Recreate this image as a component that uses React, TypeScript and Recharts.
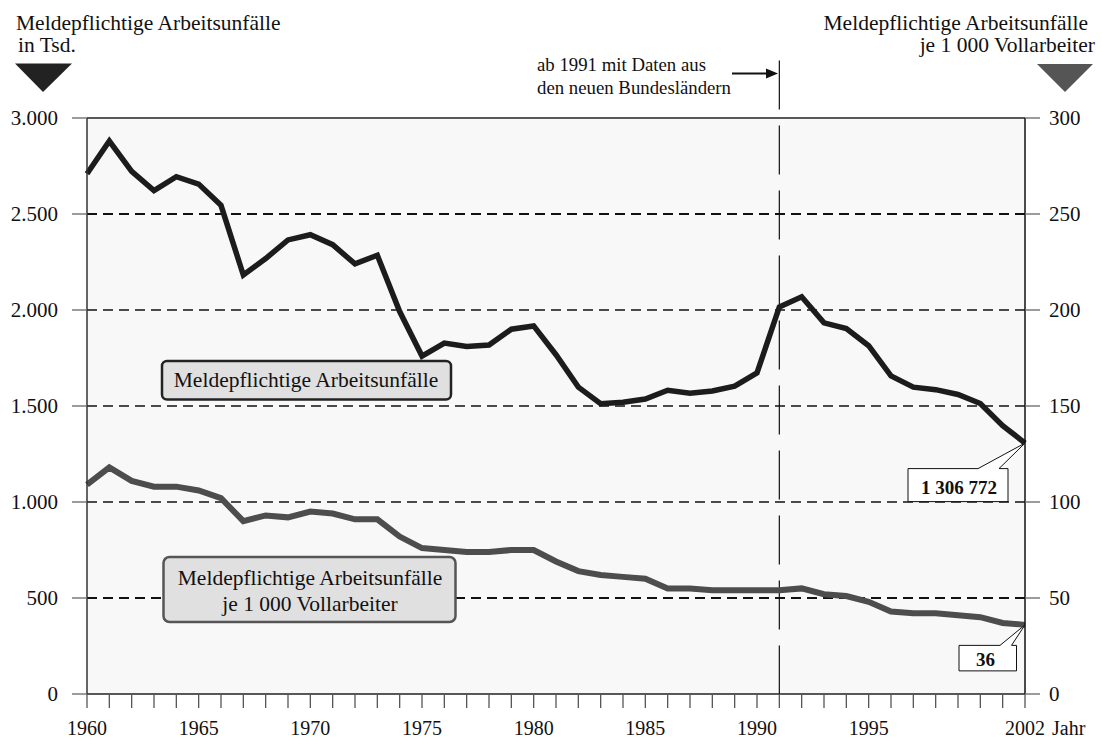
import React from "react";
import {
  CartesianGrid,
  Line,
  LineChart,
  ReferenceDot,
  ReferenceLine,
  XAxis,
  YAxis,
} from "recharts";

const years = [
  1960, 1961, 1962, 1963, 1964, 1965, 1966, 1967, 1968, 1969, 1970, 1971, 1972, 1973, 1974,
  1975, 1976, 1977, 1978, 1979, 1980, 1981, 1982, 1983, 1984, 1985, 1986, 1987, 1988, 1989,
  1990, 1991, 1992, 1993, 1994, 1995, 1996, 1997, 1998, 1999, 2000, 2001, 2002,
];

// Meldepflichtige Arbeitsunfälle in Tsd. (linke Achse)
const accidentsTsd = [
  2710, 2880, 2722, 2622, 2694, 2656, 2545, 2182, 2268, 2365, 2392, 2340, 2240, 2285, 1992,
  1760, 1828, 1810, 1818, 1900, 1917, 1767, 1598, 1512, 1520, 1536, 1582, 1567, 1578, 1603,
  1672, 2016, 2069, 1933, 1903, 1814, 1657, 1598, 1585, 1560, 1513, 1398, 1306.772,
];

// je 1 000 Vollarbeiter (rechte Achse)
const accidentsPer1000 = [
  109, 118, 111, 108, 108, 106, 102, 90, 93, 92, 95, 94, 91, 91, 82,
  76, 75, 74, 74, 75, 75, 69, 64, 62, 61, 60, 55, 55, 54, 54,
  54, 54, 55, 52, 51, 48, 43, 42, 42, 41, 40, 37, 36,
];

const labeledYears = [1960, 1965, 1970, 1975, 1980, 1985, 1990, 1995, 2002];
const leftTicks = [0, 500, 1000, 1500, 2000, 2500, 3000];
const rightTicks = [0, 50, 100, 150, 200, 250, 300];
const boldGridValues = [500, 2500];

const reunificationYear = 1991;
const lastAccidentsLabel = "1 306 772";
const lastRateLabel = "36";

const data = years.map((year, i) => ({
  year,
  accidents: accidentsTsd[i],
  rate: accidentsPer1000[i],
}));

const FONT = "'Liberation Serif', 'Times New Roman', serif";

function formatThousands(value: number) {
  return String(value).replace(/\B(?=(\d{3})+(?!\d))/g, ".");
}

function YearTick({ x, y, payload }: any) {
  if (!labeledYears.includes(payload.value)) return <g />;
  return (
    <text x={x} y={y + 25} textAnchor="middle" fontSize={20} fill="#111" fontFamily={FONT}>
      {payload.value}
    </text>
  );
}

function GridLine(props: any) {
  const { x1, x2, y1, y, height } = props;
  const value = ((y + height - y1) / height) * 3000;
  if (Math.abs(y1 - y) < 1) {
    return <line x1={x1} x2={x2} y1={y1} y2={y1} stroke="#222" strokeWidth={1.5} />;
  }
  if (Math.abs(y1 - (y + height)) < 1) return <g />;
  const bold = boldGridValues.some((v) => Math.abs(v - value) < 10);
  return (
    <line
      x1={x1}
      x2={x2}
      y1={y1}
      y2={y1}
      stroke="#111"
      strokeWidth={bold ? 2 : 1.3}
      strokeDasharray="10 6"
    />
  );
}

function AccidentsCallout({ cx, cy }: any) {
  const top = cy + 25.5;
  const bottom = cy + 58.5;
  const left = cx - 117;
  const right = cx - 17;
  const path = `M${left},${top} L${cx - 47},${top} L${cx},${cy} L${cx - 26},${top} L${right},${top} L${right},${bottom} L${left},${bottom} Z`;
  return (
    <g>
      <path d={path} fill="#fff" stroke="#111" strokeWidth={1} />
      <text x={cx - 66} y={cy + 50.5} textAnchor="middle" fontSize={19} fontWeight="bold" fill="#111" fontFamily={FONT}>
        {lastAccidentsLabel}
      </text>
    </g>
  );
}

function RateCallout({ cx, cy }: any) {
  const top = cy + 20.5;
  const bottom = cy + 46;
  const left = cx - 66;
  const right = cx - 8.5;
  const path = `M${left},${top} L${cx - 25},${top} L${cx},${cy} L${cx - 13.5},${top} L${right},${top} L${right},${bottom} L${left},${bottom} Z`;
  return (
    <g>
      <path d={path} fill="#fff" stroke="#111" strokeWidth={1} />
      <text x={cx - 39.5} y={cy + 41} textAnchor="middle" fontSize={19} fontWeight="bold" fill="#111" fontFamily={FONT}>
        {lastRateLabel}
      </text>
    </g>
  );
}

export default function App() {
  return (
    <div
      style={{
        position: "absolute",
        left: 0,
        top: 0,
        width: 1102,
        height: 739,
        background: "#fff",
        fontFamily: FONT,
      }}
    >
      <LineChart width={1102} height={739} data={data} margin={{ top: 118, right: 0, bottom: 0, left: 0 }}>
        <CartesianGrid yAxisId="left" fill="#f8f8f8" vertical={false} horizontal={GridLine} />
        <XAxis
          dataKey="year"
          type="number"
          domain={[1960, 2002]}
          ticks={years}
          interval={0}
          height={45}
          tickSize={14}
          tickMargin={2}
          tick={YearTick}
          tickLine={{ stroke: "#555", strokeWidth: 1.3 }}
          axisLine={{ stroke: "#222", strokeWidth: 1.5 }}
        />
        <YAxis
          yAxisId="left"
          orientation="left"
          width={87}
          domain={[0, 3000]}
          ticks={leftTicks}
          interval={0}
          tickSize={15}
          tickMargin={14}
          tickFormatter={formatThousands}
          tick={{ fill: "#111", fontSize: 21, fontFamily: FONT }}
          tickLine={{ stroke: "#666", strokeWidth: 1.3 }}
          axisLine={{ stroke: "#333", strokeWidth: 1.5 }}
        />
        <YAxis
          yAxisId="right"
          orientation="right"
          width={77}
          domain={[0, 300]}
          ticks={rightTicks}
          interval={0}
          tickSize={15}
          tickMargin={9}
          tick={{ fill: "#111", fontSize: 21, fontFamily: FONT }}
          tickLine={{ stroke: "#666", strokeWidth: 1.3 }}
          axisLine={{ stroke: "#111", strokeWidth: 1.5 }}
        />
        <ReferenceLine
          yAxisId="left"
          segment={[
            { x: reunificationYear, y: 3300 },
            { x: reunificationYear, y: 0 },
          ]}
          stroke="#111"
          strokeWidth={1.2}
          strokeDasharray="49 16"
          ifOverflow="visible"
        />
        <Line
          yAxisId="left"
          type="linear"
          dataKey="accidents"
          stroke="#1c1c1c"
          strokeWidth={5.5}
          dot={false}
          isAnimationActive={false}
        />
        <Line
          yAxisId="right"
          type="linear"
          dataKey="rate"
          stroke="#4d4d4d"
          strokeWidth={6}
          dot={false}
          isAnimationActive={false}
        />
        <ReferenceDot
          yAxisId="left"
          x={2002}
          y={accidentsTsd[accidentsTsd.length - 1]}
          ifOverflow="visible"
          shape={AccidentsCallout}
        />
        <ReferenceDot
          yAxisId="right"
          x={2002}
          y={accidentsPer1000[accidentsPer1000.length - 1]}
          ifOverflow="visible"
          shape={RateCallout}
        />
      </LineChart>
      <svg
        width={1102}
        height={739}
        style={{ position: "absolute", left: 0, top: 0, pointerEvents: "none" }}
        fontFamily={FONT}
      >
        <text x={16} y={29.5} fontSize={21.5} fill="#111">Meldepflichtige Arbeitsunfälle</text>
        <text x={18} y={51.5} fontSize={21.5} fill="#111">in Tsd.</text>
        <polygon points="15,63.5 72,63.5 43,92" fill="#222" />

        <text x={1088} y={29.5} fontSize={21.5} fill="#111" textAnchor="end">Meldepflichtige Arbeitsunfälle</text>
        <text x={1095} y={51.5} fontSize={21.5} fill="#111" textAnchor="end">je 1 000 Vollarbeiter</text>
        <polygon points="1037,64 1093,64 1065,92" fill="#555" />

        <text x={537} y={71} fontSize={18.8} fill="#111">ab 1991 mit Daten aus</text>
        <text x={537} y={93.5} fontSize={18.8} fill="#111">den neuen Bundesländern</text>
        <line x1={732} y1={73.5} x2={768} y2={73.5} stroke="#111" strokeWidth={2.2} />
        <polygon points="766,68.5 778,73.5 766,78.5" fill="#111" />

        <rect x={162} y={361} width={289} height={38.5} rx={5} fill="#e0e0e0" stroke="#222" strokeWidth={2.5} />
        <text x={306} y={387} fontSize={21.5} fill="#111" textAnchor="middle">Meldepflichtige Arbeitsunfälle</text>

        <rect x={163.5} y={557} width={292} height={65} rx={6} fill="#e0e0e0" stroke="#555" strokeWidth={2.5} />
        <text x={310} y={585} fontSize={21.5} fill="#111" textAnchor="middle">Meldepflichtige Arbeitsunfälle</text>
        <text x={310} y={610.5} fontSize={21.5} fill="#111" textAnchor="middle">je 1 000 Vollarbeiter</text>

        <text x={1052} y={735} fontSize={20} fill="#111">Jahr</text>
      </svg>
    </div>
  );
}
